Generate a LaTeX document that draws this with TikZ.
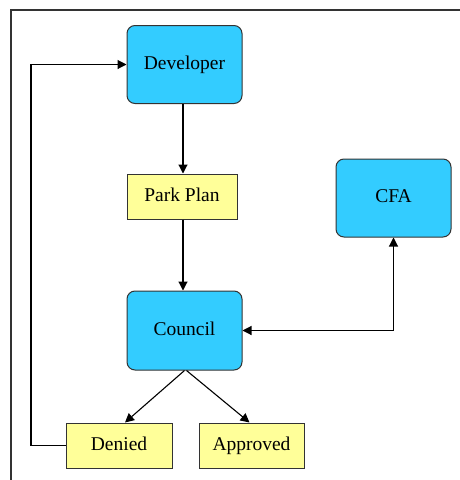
\documentclass[tikz,border=0pt]{standalone}
\usepackage{fontspec}
\setmainfont{Liberation Serif}
\usetikzlibrary{arrows.meta}
\definecolor{boxblue}{HTML}{33CCFF}
\definecolor{boxyellow}{HTML}{FFFF99}
\definecolor{edge}{HTML}{333333}
\begin{document}
\begin{tikzpicture}[x=1pt,y=-1pt,
  txt/.style={font=\fontsize{19.5}{22}\selectfont,text height=13pt,text depth=4pt},
  bluebox/.style={txt,draw=edge,line width=1pt,fill=boxblue,rounded corners=8pt,minimum width=115pt,minimum height=78pt,inner sep=0pt},
  yellowbox/.style={txt,draw=edge,line width=1pt,fill=boxyellow,minimum height=45pt,inner sep=0pt},
  conn/.style={draw=black,line width=1.1pt,-{Triangle[length=9pt,width=9pt]}}]
\useasboundingbox (0,0) rectangle (460,480);
\draw[edge,line width=1.3pt] (11,480) coordinate (fb) -- (11,10) coordinate (fc) -- (460,10) coordinate (fr);
\node[bluebox] (dev) at (184.5,64.5) {Developer};
\node[yellowbox,minimum width=110pt] (park) at (182,196.5) {Park Plan};
\node[bluebox,minimum height=79pt] (council) at (184.5,330.5) {Council};
\node[bluebox] (cfa) at (393.5,198) {CFA};
\node[yellowbox,minimum width=106pt] (denied) at (119,445.5) {Denied};
\node[yellowbox,minimum width=105pt] (approved) at (251.5,445.5) {Approved};
\coordinate (lb) at (31,445.5);
\coordinate (lt) at (31,64.5);
\coordinate (ax) at (183,0);
\draw[conn] (dev.south -| ax) -- (park.north -| ax);
\draw[conn] (park.south -| ax) -- (council.north -| ax);
\draw[conn,{Triangle[length=9pt,width=9pt]}-{Triangle[length=9pt,width=9pt]}] (council.east) -| (cfa.south);
\draw[conn] (council.south) -- ([xshift=6pt]denied.north);
\draw[conn] ([xshift=2pt]council.south) -- ([xshift=-2pt]approved.north);
\draw[conn] (denied.west) -- (lb) -- (lt) -- (dev.west);
\end{tikzpicture}
\end{document}
